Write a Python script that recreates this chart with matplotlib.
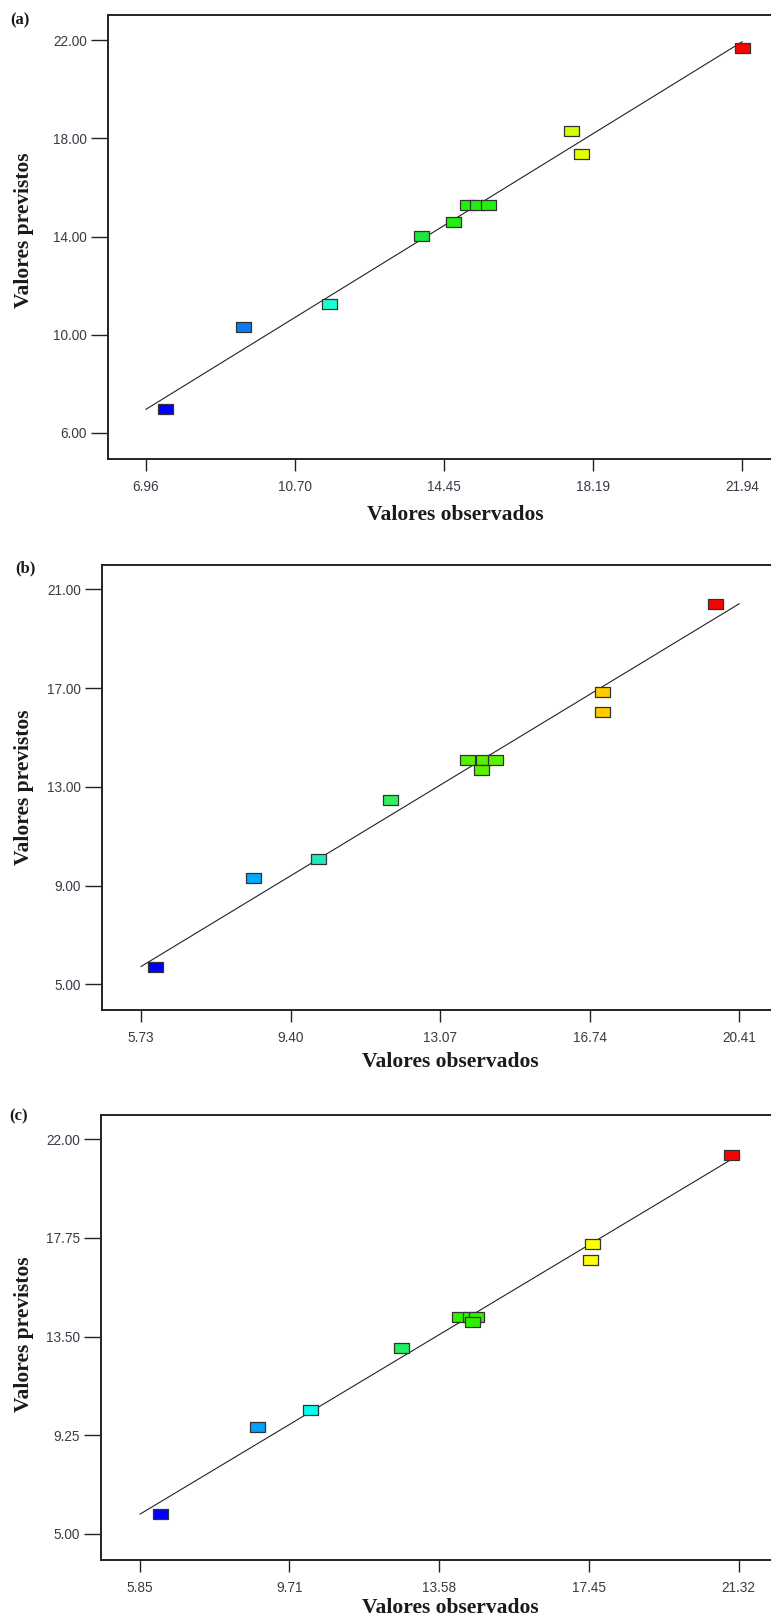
import matplotlib
matplotlib.use("Agg")
import matplotlib.pyplot as plt

# ---------------- data ----------------
# panel (a)
a_obs = [7.43, 9.39, 11.57, 13.88, 14.67, 15.02, 15.27, 15.54, 17.63, 17.88, 21.93]
a_pred = [6.97, 10.32, 11.26, 14.01, 14.59, 15.27, 15.27, 15.27, 18.30, 17.36, 21.69]
a_colors = ["#0000ff", "#0a7cf0", "#1affd0", "#1ee63c", "#22ee10", "#22f015", "#22f015",
            "#22f015", "#d4ff00", "#e6ff00", "#ff0000"]
a_xticks = [6.96, 10.70, 14.45, 18.19, 21.94]
a_yticks = [6.00, 10.00, 14.00, 18.00, 22.00]

# panel (b)
b_obs = [6.08, 8.48, 10.08, 11.85, 13.73, 14.13, 14.43, 14.07, 17.05, 17.05, 19.81]
b_pred = [5.71, 9.30, 10.08, 12.47, 14.10, 14.10, 14.10, 13.68, 16.84, 16.04, 20.41]
b_colors = ["#0000ff", "#00a8ff", "#20e8b8", "#2ef060", "#5af000", "#5af000", "#5af000",
            "#5af000", "#ffcc00", "#ffcc00", "#ff0000"]
b_xticks = [5.73, 9.40, 13.07, 16.74, 20.41]
b_yticks = [5.00, 9.00, 13.00, 17.00, 21.00]

# panel (c)
c_obs = [6.36, 8.86, 10.25, 12.59, 14.10, 14.37, 14.54, 14.43, 17.54, 17.48, 21.13]
c_pred = [5.85, 9.62, 10.35, 13.01, 14.33, 14.33, 14.33, 14.12, 17.50, 16.81, 21.33]
c_colors = ["#0000ff", "#00a0ff", "#00ffee", "#20f060", "#30f000", "#30f000", "#30f000",
            "#30f000", "#ffff00", "#ffff00", "#ff0000"]
c_xticks = [5.85, 9.71, 13.58, 17.45, 21.32]
c_yticks = [5.00, 9.25, 13.50, 17.75, 22.00]

xlabel_text = "Valores observados"
ylabel_text = "Valores previstos"
panel_tags = ["(a)", "(b)", "(c)"]

# ---------------- figure ----------------
W, H = 771, 1620
fig = plt.figure(figsize=(W / 100, H / 100), dpi=100)

rect_marker = [(-1.5, -1), (1.5, -1), (1.5, 1), (-1.5, 1), (-1.5, -1)]

# layout in pixels: (left, top, right, bottom), x limits, y limits
panels = [
    dict(obs=a_obs, pred=a_pred, colors=a_colors, xt=a_xticks, yt=a_yticks,
         box=(108, 15.2, 790, 458.6), xlim=(6.005, 23.14), ylim=(4.95, 23.02),
         xl=(455, 515), yl=(24, 230), tag=(20, 20)),
    dict(obs=b_obs, pred=b_pred, colors=b_colors, xt=b_xticks, yt=b_yticks,
         box=(101.8, 564.8, 790, 1010.3), xlim=(4.765, 21.66), ylim=(3.955, 21.99),
         xl=(450, 1062), yl=(24, 787), tag=(25, 568)),
    dict(obs=c_obs, pred=c_pred, colors=c_colors, xt=c_xticks, yt=c_yticks,
         box=(101.3, 1114.5, 790, 1559.7), xlim=(4.847, 22.65), ylim=(3.884, 23.07),
         xl=(450, 1608), yl=(24, 1334), tag=(19, 1116)),
]

tick_color = "#3a3a48"
spine_color = "#222222"

for i, p in enumerate(panels):
    l, t, r, b = p["box"]
    ax = fig.add_axes([l / W, 1 - b / H, (r - l) / W, (b - t) / H])
    ax.set_xlim(*p["xlim"])
    ax.set_ylim(*p["ylim"])
    xt = p["xt"]
    ax.plot([xt[0], xt[-1]], [xt[0], xt[-1]], color="#222222", lw=0.8, zorder=2)
    for xo, yp, c in zip(p["obs"], p["pred"], p["colors"]):
        ax.plot([xo], [yp], linestyle="none", marker=rect_marker, markersize=10.8,
                markerfacecolor=c, markeredgecolor="#333333", markeredgewidth=0.9, zorder=3)
    ax.set_xticks(xt)
    ax.set_xticklabels([f"{v:.2f}" for v in xt])
    ax.set_yticks(p["yt"])
    ax.set_yticklabels([f"{v:.2f}" for v in p["yt"]])
    ax.tick_params(axis="x", length=8.6, width=1.0, color=spine_color, pad=6.5,
                   labelsize=9.8, labelcolor=tick_color)
    ax.tick_params(axis="y", length=12.2, width=1.0, color=spine_color, pad=3,
                   labelsize=9.8, labelcolor=tick_color)
    for lab in ax.get_xticklabels() + ax.get_yticklabels():
        lab.set_family("Liberation Sans")
    for s in ["left", "bottom", "top", "right"]:
        ax.spines[s].set_linewidth(1.4)
        ax.spines[s].set_color(spine_color)

    fig.text(p["xl"][0] / W, 1 - p["xl"][1] / H, xlabel_text, ha="center", va="center",
             family="Liberation Serif", fontweight="bold", fontsize=15.5, color="#1a1a1a")
    fig.text(p["yl"][0] / W, 1 - p["yl"][1] / H, ylabel_text, ha="center", va="center",
             rotation=90, family="Liberation Serif", fontweight="bold", fontsize=15.5,
             color="#1a1a1a")
    fig.text(p["tag"][0] / W, 1 - p["tag"][1] / H, panel_tags[i], ha="center", va="center",
             family="Liberation Serif", fontweight="bold", fontsize=12, color="#1a1a1a")

fig.savefig("out.png", dpi=100)
